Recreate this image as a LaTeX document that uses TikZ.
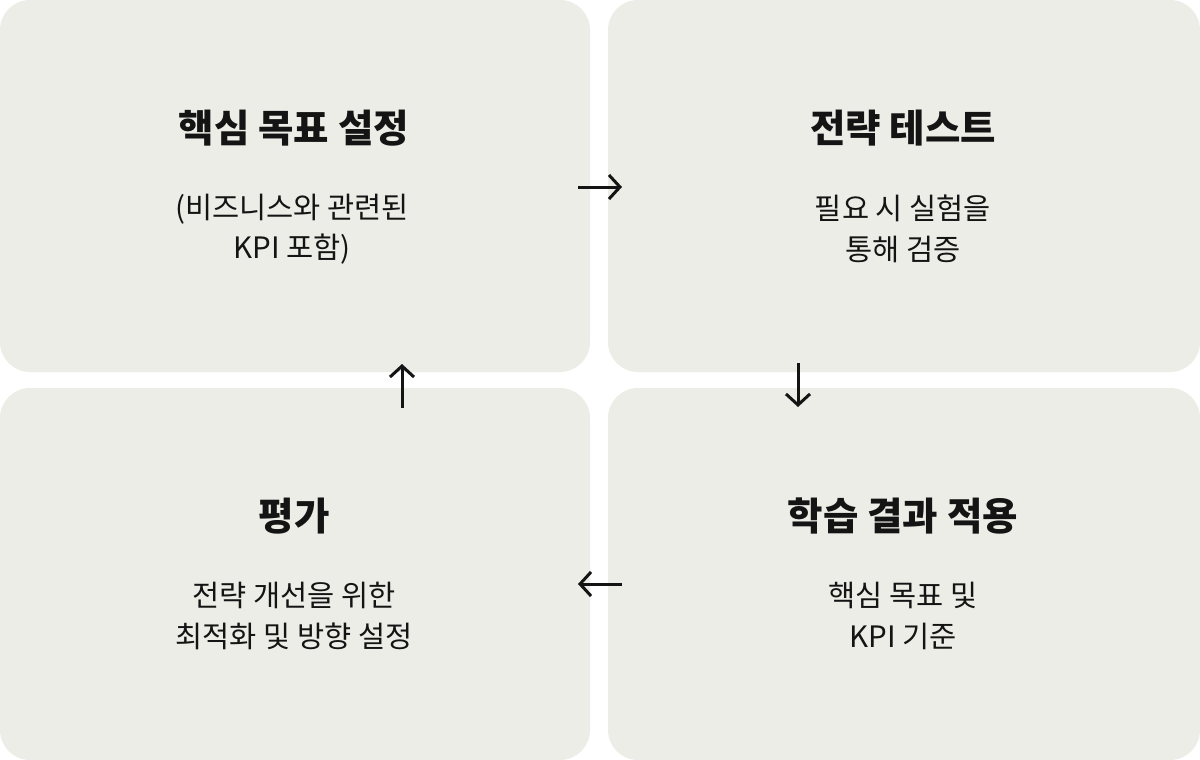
\documentclass[tikz,border=0pt]{standalone}
\usepackage{fontspec}
\setmainfont{Noto Sans CJK KR}
\usetikzlibrary{arrows.meta}
\definecolor{boxfill}{RGB}{237,237,232}
\definecolor{ink}{RGB}{20,20,20}
\begin{document}
\begin{tikzpicture}[x=1pt,y=-1pt,
  panel/.style={fill=boxfill,draw=none,rounded corners=30pt},
  titletext/.style={font=\fontsize{38.5}{44}\selectfont\bfseries,text=ink,anchor=center,inner sep=0pt},
  bodytext/.style={font=\fontsize{29.5}{40.5}\selectfont,text=ink,align=center,anchor=center,inner sep=0pt},
  flow/.style={draw=ink,line width=3pt,-{Straight Barb[length=11pt,width=24pt,line width=3pt]}}]
\useasboundingbox (0,0) rectangle (1200,760);
\fill[white] (0,0) rectangle (1200,760);
\path[panel] (0,0) rectangle (590,372);
\path[panel] (608,0) rectangle (1200,372);
\path[panel] (0,388) rectangle (590,760);
\path[panel] (608,388) rectangle (1200,760);

\node[titletext] (t1) at (294,128) {핵심 목표 설정};
\node[bodytext] (b1) at (292,229) {(비즈니스와 관련된\\KPI 포함)};
\node[titletext] (t2) at (903,128) {전략 테스트};
\node[bodytext] (b2) at (903,229) {필요 시 실험을\\통해 검증};
\node[titletext] (t3) at (294,516) {평가};
\node[bodytext] (b3) at (294,616) {전략 개선을 위한\\최적화 및 방향 설정};
\node[titletext] (t4) at (903,516) {학습 결과 적용};
\node[bodytext] (b4) at (903,616) {핵심 목표 및\\KPI 기준};

\coordinate (r1) at (578,187); \coordinate (r2) at (622,187);
\coordinate (d1) at (798,363); \coordinate (d2) at (798,407);
\coordinate (l1) at (622,584); \coordinate (l2) at (578,584);
\coordinate (u1) at (402,408); \coordinate (u2) at (402,364);
\draw[flow] (r1) -- (r2);
\draw[flow] (d1) -- (d2);
\draw[flow] (l1) -- (l2);
\draw[flow] (u1) -- (u2);
\end{tikzpicture}
\end{document}
